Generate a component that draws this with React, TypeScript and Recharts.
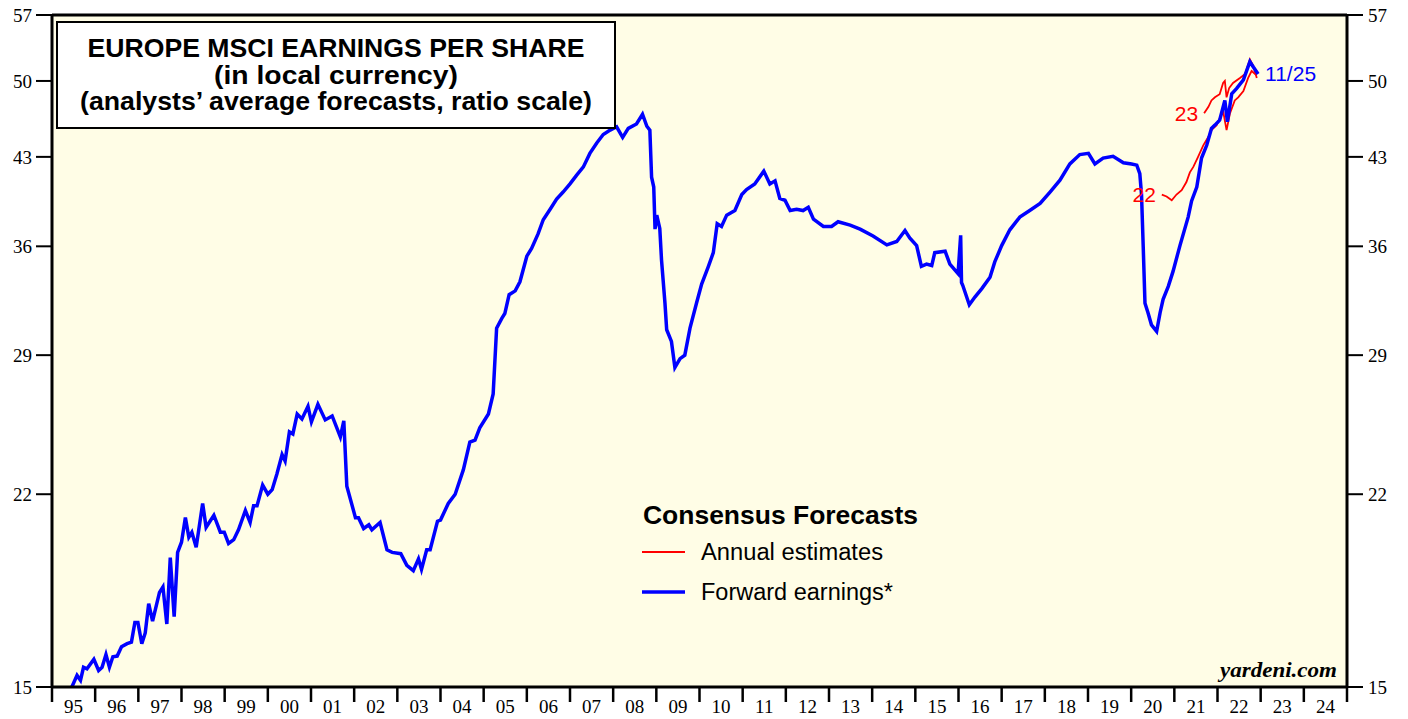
import React from "react";
import { LineChart, Line, XAxis, YAxis, CartesianGrid, ReferenceLine, ReferenceDot } from "recharts";

const W = 1408;
const H = 719;
const PLOT_LEFT = 52;
const PLOT_RIGHT_GAP = 61;
const SANS = "'Liberation Sans', Arial, Helvetica, sans-serif";
const SERIF = "'Liberation Serif', 'Times New Roman', serif";

// forward earnings (decimal year, EPS in local currency)
const FWD_T = [
    1995.46, 1995.58, 1995.66, 1995.73, 1995.81, 1995.97, 1996.08, 1996.16, 1996.25, 1996.33,
    1996.41, 1996.51, 1996.61, 1996.74, 1996.84, 1996.92, 1996.99, 1997.08, 1997.16, 1997.24,
    1997.33, 1997.49, 1997.57, 1997.66, 1997.74, 1997.83, 1997.91, 1998.0, 1998.09, 1998.17,
    1998.24, 1998.34, 1998.49, 1998.57, 1998.75, 1998.9, 1998.99, 1999.09, 1999.21, 1999.32,
    1999.48, 1999.59, 1999.67, 1999.75, 1999.88, 2000.0, 2000.1, 2000.21, 2000.33, 2000.4,
    2000.5, 2000.58, 2000.68, 2000.79, 2000.93, 2001.01, 2001.16, 2001.33, 2001.49, 2001.68,
    2001.76, 2001.83, 2002.03, 2002.1, 2002.22, 2002.34, 2002.41, 2002.6, 2002.76, 2002.88,
    2003.08, 2003.22, 2003.37, 2003.49, 2003.56, 2003.68, 2003.76, 2003.93, 2004.0, 2004.18,
    2004.34, 2004.53, 2004.68, 2004.8, 2004.91, 2005.11, 2005.22, 2005.3, 2005.42, 2005.49,
    2005.59, 2005.73, 2005.84, 2006.0, 2006.11, 2006.26, 2006.38, 2006.54, 2006.69, 2006.84,
    2007.0, 2007.15, 2007.31, 2007.46, 2007.62, 2007.77, 2007.93, 2008.08, 2008.22, 2008.35,
    2008.54, 2008.68, 2008.78, 2008.85, 2008.89, 2008.94, 2008.97, 2009.01, 2009.08, 2009.12,
    2009.2, 2009.24, 2009.35, 2009.43, 2009.55, 2009.66, 2009.78, 2009.93, 2010.05, 2010.2,
    2010.32, 2010.41, 2010.51, 2010.63, 2010.82, 2010.98, 2011.09, 2011.28, 2011.49, 2011.63,
    2011.75, 2011.86, 2011.98, 2012.1, 2012.25, 2012.4, 2012.52, 2012.64, 2012.87, 2013.06,
    2013.21, 2013.49, 2013.72, 2014.02, 2014.34, 2014.57, 2014.76, 2014.87, 2015.03, 2015.14,
    2015.26, 2015.38, 2015.45, 2015.69, 2015.8, 2015.99, 2016.05, 2016.07, 2016.1, 2016.25,
    2016.38, 2016.54, 2016.73, 2016.84, 2017.0, 2017.19, 2017.42, 2017.65, 2017.89, 2018.12,
    2018.35, 2018.58, 2018.81, 2019.01, 2019.16, 2019.35, 2019.58, 2019.82, 2020.01, 2020.13,
    2020.2, 2020.24, 2020.28, 2020.32, 2020.39, 2020.47, 2020.59, 2020.67, 2020.74, 2020.86,
    2020.97, 2021.13, 2021.32, 2021.4, 2021.52, 2021.63, 2021.75, 2021.86, 2021.94, 2022.05,
    2022.17, 2022.23, 2022.33, 2022.44, 2022.6, 2022.75, 2022.83, 2022.94,
];
const FWD_V = [
    15.0, 15.35, 15.2, 15.6, 15.55, 15.85, 15.5, 15.6, 16.0, 15.6,
    15.93, 15.95, 16.25, 16.35, 16.4, 17.05, 17.05, 16.35, 16.7, 17.7,
    17.1, 18.1, 18.3, 17.0, 19.4, 17.25, 19.6, 20.0, 21.0, 20.2,
    20.4, 19.8, 21.6, 20.6, 21.1, 20.4, 20.4, 19.95, 20.1, 20.5,
    21.3, 20.8, 21.5, 21.5, 22.4, 22.0, 22.2, 22.9, 23.8, 23.5,
    24.9, 24.8, 25.8, 25.55, 26.2, 25.4, 26.3, 25.5, 25.7, 24.65,
    25.45, 22.35, 21.0, 21.0, 20.55, 20.7, 20.5, 20.8, 19.7, 19.6,
    19.55, 19.1, 18.9, 19.35, 18.95, 19.7, 19.7, 20.85, 20.9, 21.6,
    22.0, 23.1, 24.4, 24.5, 25.1, 25.8, 26.85, 30.6, 31.2, 31.5,
    32.7, 32.95, 33.55, 35.3, 35.85, 36.9, 37.95, 38.75, 39.55, 40.1,
    40.75, 41.45, 42.15, 43.3, 44.2, 44.95, 45.35, 45.65, 44.7, 45.5,
    45.9, 46.8, 45.7, 45.35, 41.3, 40.5, 37.25, 38.3, 37.3, 35.05,
    32.15, 30.5, 29.8, 28.3, 28.8, 29.0, 30.6, 32.15, 33.4, 34.55,
    35.55, 37.65, 37.45, 38.3, 38.65, 39.9, 40.3, 40.75, 41.8, 40.75,
    41.0, 39.6, 39.45, 38.65, 38.75, 38.65, 38.9, 38.0, 37.45, 37.45,
    37.8, 37.55, 37.25, 36.75, 36.1, 36.35, 37.15, 36.6, 36.05, 34.6,
    34.75, 34.65, 35.55, 35.65, 34.75, 34.1, 36.8, 33.5, 33.3, 32.05,
    32.55, 33.1, 33.85, 34.9, 36.05, 37.2, 38.15, 38.65, 39.2, 40.1,
    41.05, 42.4, 43.2, 43.3, 42.4, 42.9, 43.05, 42.5, 42.4, 42.3,
    41.6, 39.9, 35.9, 32.15, 31.55, 30.8, 30.4, 31.55, 32.4, 33.25,
    34.25, 36.05, 38.15, 39.4, 40.5, 42.9, 44.0, 45.5, 45.8, 46.25,
    48.1, 46.1, 48.75, 49.25, 50.1, 51.95, 51.4, 50.7,
];

// annual estimates for 2022
const EST22_T = [
    2020.71, 2020.82, 2020.94, 2021.05, 2021.17, 2021.28, 2021.36, 2021.44, 2021.55, 2021.67,
    2021.79, 2021.86, 2021.98, 2022.13, 2022.21, 2022.29, 2022.4, 2022.48, 2022.6, 2022.71,
    2022.79, 2022.9,
];
const EST22_V = [
    39.9, 39.75, 39.45, 39.9, 40.25, 40.9, 41.7, 42.15, 43.0, 44.0,
    44.75, 45.35, 45.8, 47.1, 45.35, 46.9, 48.1, 48.4, 49.0, 50.3,
    51.0, 50.6,
];

// annual estimates for 2023
const EST23_T = [
    2021.69, 2021.79, 2021.86, 2021.94, 2022.05, 2022.13, 2022.17, 2022.21, 2022.27, 2022.36,
    2022.52, 2022.64, 2022.75, 2022.83, 2022.91,
];
const EST23_V = [
    46.9, 47.5, 48.1, 48.4, 48.7, 49.8, 50.0, 48.4, 49.3, 49.8,
    50.3, 50.7, 52.2, 51.5, 50.3,
];

const Y_TICKS = [15, 22, 29, 36, 43, 50, 57];
const YEAR_LABELS = [
    "95", "96", "97", "98", "99", "00", "01", "02", "03", "04",
    "05", "06", "07", "08", "09", "10", "11", "12", "13", "14",
    "15", "16", "17", "18", "19", "20", "21", "22", "23", "24",
];

const FIRST_YEAR = 1995;
const LAST_YEAR = FIRST_YEAR + YEAR_LABELS.length;
const YEAR_BOUNDS = [...YEAR_LABELS.map((_, i) => FIRST_YEAR + i), LAST_YEAR];
// labels sit half a year to the right of each year boundary tick
const HALF_YEAR_PX = (W - PLOT_LEFT - PLOT_RIGHT_GAP) / YEAR_LABELS.length / 2;

const toRows = (t: number[], v: number[]) => t.map((x, i) => ({ t: x, v: v[i] }));
const fwd = toRows(FWD_T, FWD_V);
const est22 = toRows(EST22_T, EST22_V);
const est23 = toRows(EST23_T, EST23_V);

const yTick = { fill: "#000", fontSize: 19, fontFamily: SERIF };
const frame = { stroke: "#000", strokeWidth: 3 };

const YearTick = (props: any) => {
    const { x, y, payload } = props;
    const label = YEAR_LABELS[Math.round(payload.value) - FIRST_YEAR];
    if (!label) return null;
    return (
        <text x={x + HALF_YEAR_PX} y={y + 9} textAnchor="middle" fill="#000" fontSize={19} fontFamily={SERIF}>
            {label}
        </text>
    );
};

export default function App() {
    return (
        <div style={{ position: "absolute", left: 0, top: 0, width: W, height: H, background: "#fff" }}>
            <LineChart width={W} height={H} margin={{ top: 15, right: 0, bottom: 0, left: 0 }}>
                <CartesianGrid horizontal={false} vertical={false} fill="#fffde6" />
                <XAxis
                    dataKey="t"
                    type="number"
                    domain={[FIRST_YEAR, LAST_YEAR]}
                    ticks={YEAR_BOUNDS}
                    interval={0}
                    height={32}
                    tickSize={15}
                    tickMargin={2}
                    tick={<YearTick />}
                    axisLine={frame}
                    tickLine={{ stroke: "#000", strokeWidth: 2.5 }}
                    allowDataOverflow
                />
                <YAxis
                    yAxisId="l"
                    type="number"
                    scale="log"
                    domain={[15, 57]}
                    ticks={Y_TICKS}
                    interval={0}
                    width={PLOT_LEFT}
                    tickSize={16}
                    tickMargin={4}
                    axisLine={frame}
                    tickLine={{ stroke: "#000", strokeWidth: 2 }}
                    tick={yTick}
                    allowDataOverflow
                />
                <YAxis
                    yAxisId="r"
                    orientation="right"
                    type="number"
                    scale="log"
                    domain={[15, 57]}
                    ticks={Y_TICKS}
                    interval={0}
                    width={PLOT_RIGHT_GAP}
                    tickSize={16}
                    tickMargin={5}
                    axisLine={frame}
                    tickLine={{ stroke: "#000", strokeWidth: 2 }}
                    tick={yTick}
                    allowDataOverflow
                />
                <ReferenceLine yAxisId="l" y={57} stroke="#000" strokeWidth={3} />

                <Line yAxisId="l" data={est22} dataKey="v" type="linear" stroke="#ff0000" strokeWidth={1.8} dot={false} isAnimationActive={false} />
                <Line yAxisId="l" data={est23} dataKey="v" type="linear" stroke="#ff0000" strokeWidth={1.8} dot={false} isAnimationActive={false} />
                <Line yAxisId="l" data={fwd} dataKey="v" type="linear" stroke="#0000ff" strokeWidth={3.5} dot={false} isAnimationActive={false} />

                <ReferenceDot yAxisId="l" x={EST22_T[0]} y={EST22_V[0]} r={1} fill="none" stroke="none"
                    label={{ value: "22", position: "left", offset: 5, fill: "#ff0000", fontSize: 21, fontFamily: SANS }} />
                <ReferenceDot yAxisId="l" x={EST23_T[0]} y={EST23_V[0]} r={1} fill="none" stroke="none"
                    label={{ value: "23", position: "left", offset: 5, fill: "#ff0000", fontSize: 21, fontFamily: SANS }} />
                <ReferenceDot yAxisId="l" x={FWD_T[FWD_T.length - 1]} y={FWD_V[FWD_V.length - 1]} r={1} fill="none" stroke="none"
                    label={{ value: "11/25", position: "right", offset: 6, fill: "#0000ff", fontSize: 21, fontFamily: SANS }} />
            </LineChart>

            {/* title box, legend and source */}
            <svg width={W} height={H} style={{ position: "absolute", left: 0, top: 0, pointerEvents: "none" }}>
                <rect x={57} y={22} width={558} height={106} fill="#fff" stroke="#000" strokeWidth={2} />
                <text x={336} y={57} textAnchor="middle" fontFamily={SANS} fontWeight="bold" fontSize={25} textLength={497} lengthAdjust="spacingAndGlyphs">
                    EUROPE MSCI EARNINGS PER SHARE
                </text>
                <text x={336} y={84} textAnchor="middle" fontFamily={SANS} fontWeight="bold" fontSize={25} textLength={244} lengthAdjust="spacingAndGlyphs">
                    (in local currency)
                </text>
                <text x={336} y={110} textAnchor="middle" fontFamily={SANS} fontWeight="bold" fontSize={25} textLength={512} lengthAdjust="spacingAndGlyphs">
                    (analysts’ average forecasts, ratio scale)
                </text>

                <text x={643} y={524} fontFamily={SANS} fontWeight="bold" fontSize={25} textLength={275} lengthAdjust="spacingAndGlyphs">
                    Consensus Forecasts
                </text>
                <line x1={642} x2={685} y1={552} y2={552} stroke="#ff0000" strokeWidth={2} />
                <text x={701} y={560} fontFamily={SANS} fontSize={23} textLength={182} lengthAdjust="spacingAndGlyphs">
                    Annual estimates
                </text>
                <line x1={642} x2={685} y1={592} y2={592} stroke="#0000ff" strokeWidth={3.5} />
                <text x={701} y={600} fontFamily={SANS} fontSize={23} textLength={192} lengthAdjust="spacingAndGlyphs">
                    Forward earnings*
                </text>

                <text x={1337} y={677} textAnchor="end" fontFamily={SERIF} fontWeight="bold" fontStyle="italic" fontSize={20} textLength={117} lengthAdjust="spacingAndGlyphs">
                    yardeni.com
                </text>
            </svg>
        </div>
    );
}
